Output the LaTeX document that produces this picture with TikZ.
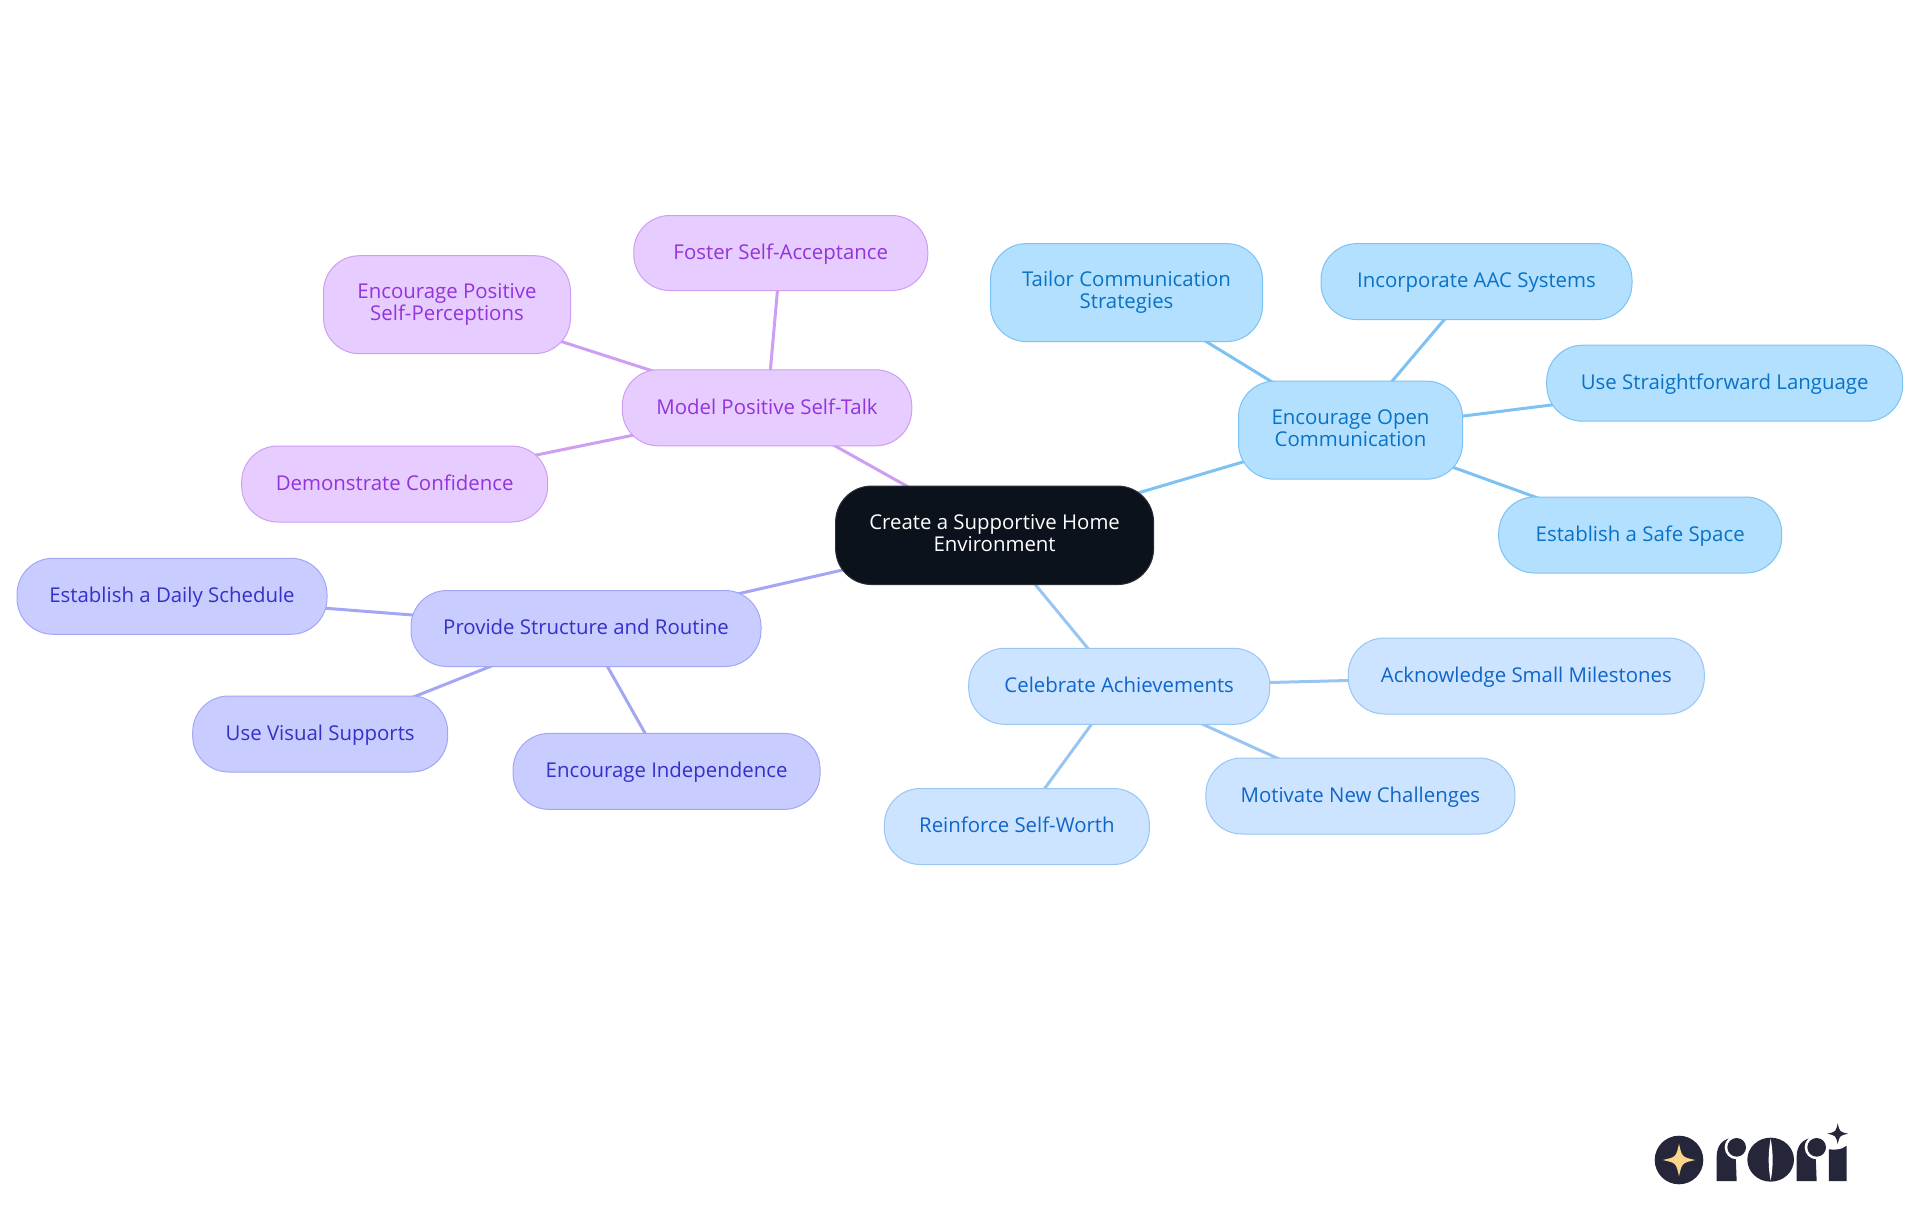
\documentclass[tikz,border=0pt]{standalone}
\usepackage{fontspec}
\setmainfont{Open Sans}
\usetikzlibrary{backgrounds}
\definecolor{logodark}{HTML}{26263A}
\definecolor{logogold}{HTML}{FBD68A}
\definecolor{bgroot}{HTML}{0C121B}\definecolor{lnroot}{HTML}{2B3037}
\definecolor{bgblue}{HTML}{B3E0FF}\definecolor{lnblue}{HTML}{7CC2F2}\definecolor{txblue}{HTML}{0A72C4}
\definecolor{bgsky}{HTML}{CCE4FF}\definecolor{lnsky}{HTML}{99C5F2}\definecolor{txsky}{HTML}{0F66C8}
\definecolor{bgpur}{HTML}{E7CCFF}\definecolor{lnpur}{HTML}{CE9EF2}\definecolor{txpur}{HTML}{9333DB}
\definecolor{bgind}{HTML}{C9CCFF}\definecolor{lnind}{HTML}{A3A6F5}\definecolor{txind}{HTML}{3430C8}
\newcommand{\mmstrut}{\rule[-4.6pt]{0pt}{22pt}}
\tikzset{
  mnode/.style={rectangle,rounded corners=36pt,line width=1pt,inner sep=0pt,align=center,
    font=\fontsize{20.4}{22}\selectfont,execute at begin node=\mmstrut,execute at end node=\mmstrut},
  rootn/.style={mnode,fill=bgroot,draw=lnroot,text=white},
  bluen/.style={mnode,fill=bgblue,draw=lnblue,text=txblue},
  skyn/.style={mnode,fill=bgsky,draw=lnsky,text=txsky},
  purn/.style={mnode,fill=bgpur,draw=lnpur,text=txpur},
  indn/.style={mnode,fill=bgind,draw=lnind,text=txind},
  sz/.style 2 args={minimum width=#1pt,minimum height=#2pt},
  link/.style={line width=3pt},
}
\newcommand{\fourstar}[4]{\fill[#4] (#1-#3,#2) .. controls (#1-0.18*#3,#2-0.18*#3) .. (#1,#2-#3) .. controls (#1+0.18*#3,#2-0.18*#3) .. (#1+#3,#2) .. controls (#1+0.18*#3,#2+0.18*#3) .. (#1,#2+#3) .. controls (#1-0.18*#3,#2+0.18*#3) .. cycle;}
\begin{document}
\begin{tikzpicture}[x=1pt,y=-1pt]
\useasboundingbox (0,0) rectangle (1920,1215);
\node[rootn,sz={318}{98.5}] (root) at (994.6,535.3) {Create a Supportive Home\\Environment};
\node[bluen,sz={224}{98}] (open) at (1350.5,430.2) {Encourage Open\\Communication};
\node[bluen,sz={272}{98}] (tailor) at (1126.5,292.6) {Tailor Communication\\Strategies};
\node[bluen,sz={311}{76}] (aac) at (1476.5,281.6) {Incorporate AAC Systems};
\node[bluen,sz={356}{76}] (plain) at (1724.7,383.2) {Use Straightforward Language};
\node[bluen,sz={283}{76}] (safe) at (1640.2,535) {Establish a Safe Space};
\node[skyn,sz={301}{76}] (cele) at (1119.2,686.3) {Celebrate Achievements};
\node[skyn,sz={356}{76}] (ack) at (1526.3,676) {Acknowledge Small Milestones};
\node[skyn,sz={309}{76}] (moti) at (1360.4,796) {Motivate New Challenges};
\node[skyn,sz={265}{76}] (rein) at (1016.9,826.5) {Reinforce Self-Worth};
\node[purn,sz={289.5}{76}] (model) at (767,407.8) {Model Positive Self-Talk};
\node[purn,sz={294}{75}] (foster) at (780.8,253) {Foster Self-Acceptance};
\node[purn,sz={247}{98}] (posit) at (447,304.7) {Encourage Positive\\Self-Perceptions};
\node[purn,sz={306}{76}] (demo) at (394.7,484) {Demonstrate Confidence};
\node[indn,sz={350}{76}] (prov) at (586,628.5) {Provide Structure and Routine};
\node[indn,sz={310}{76}] (sched) at (172,596.3) {Establish a Daily Schedule};
\node[indn,sz={255}{76}] (visual) at (320.2,734) {Use Visual Supports};
\node[indn,sz={307}{76}] (indep) at (666.6,771.4) {Encourage Independence};
\begin{pgfonlayer}{background}
\draw[link,lnblue] (root.center)--(open.center);
\draw[link,lnblue] (open.center)--(tailor.center);
\draw[link,lnblue] (open.center)--(aac.center);
\draw[link,lnblue] (open.center)--(plain.center);
\draw[link,lnblue] (open.center)--(safe.center);
\draw[link,lnsky] (root.center)--(cele.center);
\draw[link,lnsky] (cele.center)--(ack.center);
\draw[link,lnsky] (cele.center)--(moti.center);
\draw[link,lnsky] (cele.center)--(rein.center);
\draw[link,lnpur] (root.center)--(model.center);
\draw[link,lnpur] (model.center)--(foster.center);
\draw[link,lnpur] (model.center)--(posit.center);
\draw[link,lnpur] (model.center)--(demo.center);
\draw[link,lnind] (root.center)--(prov.center);
\draw[link,lnind] (prov.center)--(sched.center);
\draw[link,lnind] (prov.center)--(visual.center);
\draw[link,lnind] (prov.center)--(indep.center);
\end{pgfonlayer}
% logo
\fill[logodark] (1679,1160) circle[radius=24.3];
\fourstar{1679}{1160}{16.3}{logogold}
\begin{scope}[shift={(1620,1100)},x=0.3333pt,y=-0.3333pt]
 \foreach \dx in {0,240}{
  \fill[logodark] (290+\dx,243)--(290+\dx,170) .. controls (290+\dx,135) and (310+\dx,113) .. (345+\dx,113)--(350+\dx,243)--cycle;
  \fill[white] (350+\dx,142) circle[radius=36];
  \fill[logodark] (350+\dx,142) circle[radius=28];
 }
 \fill[logodark] (452,179) ellipse[x radius=70,y radius=66];
 \fill[white] (452,116) .. controls (444,160) and (444,200) .. (452,242) .. controls (460,200) and (460,160) .. (452,116)--cycle;
 \fill[logodark] (627,243)--(627,148) .. controls (645,150) and (665,150) .. (680,137)--(680,243)--cycle;
\end{scope}
\fourstar{1837.7}{1133.7}{10.5}{logodark}
\end{tikzpicture}
\end{document}
